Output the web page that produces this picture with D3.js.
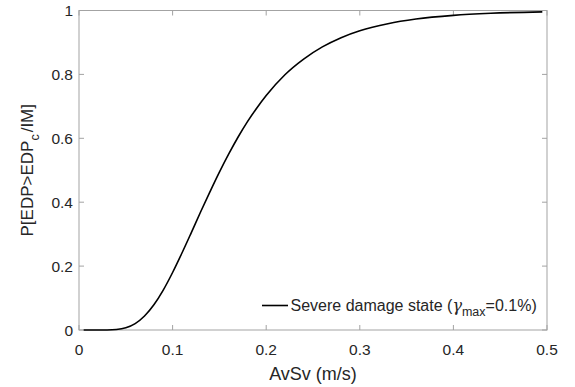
<!DOCTYPE html>
<html>
<head>
<meta charset="utf-8">
<script src="https://cdn.jsdelivr.net/npm/d3@7"></script>
<style>
  html, body { margin: 0; padding: 0; background: #fff; }
  svg { display: block; }
  text { font-family: "Liberation Sans", Arial, Helvetica, sans-serif; fill: #262626; }
</style>
</head>
<body>
<svg id="chart" width="575" height="387"></svg>
<script>
// Fragility curve: intensity measure (AvSv, m/s) and exceedance probability
const avsv = [0.005, 0.02, 0.03, 0.04, 0.05, 0.06, 0.07, 0.08, 0.09, 0.10,
              0.11, 0.12, 0.13, 0.14, 0.15, 0.16, 0.17, 0.18, 0.19, 0.20,
              0.22, 0.24, 0.26, 0.28, 0.30, 0.33, 0.36, 0.40, 0.44, 0.495];
const probability = [0.0000, 0.0000, 0.0002, 0.0016, 0.0070, 0.0201, 0.0438, 0.079, 0.125, 0.180,
                     0.241, 0.305, 0.370, 0.433, 0.494, 0.551, 0.604, 0.652, 0.695, 0.734,
                     0.799, 0.848, 0.886, 0.915, 0.9365, 0.9588, 0.9733, 0.9848, 0.9913, 0.9958];
const xTicks = [0, 0.1, 0.2, 0.3, 0.4, 0.5];
const yTicks = [0, 0.2, 0.4, 0.6, 0.8, 1];

const svg = d3.select("#chart");
const mLeft = 79, mRight = 547, mTop = 10.5, mBottom = 330;

const x = d3.scaleLinear().domain([0, 0.5]).range([mLeft, mRight]);
const y = d3.scaleLinear().domain([0, 1]).range([mBottom, mTop]);

const axisColor = "#a3a3a3";
const tickLen = 5;

// Box and inward ticks on all sides
const g = svg.append("g");
g.append("rect")
  .attr("x", mLeft).attr("y", mTop)
  .attr("width", mRight - mLeft).attr("height", mBottom - mTop)
  .attr("fill", "none").attr("stroke", axisColor).attr("stroke-width", 1);

xTicks.forEach(t => {
  g.append("line").attr("x1", x(t)).attr("x2", x(t)).attr("y1", mBottom).attr("y2", mBottom - tickLen)
    .attr("stroke", axisColor);
  g.append("line").attr("x1", x(t)).attr("x2", x(t)).attr("y1", mTop).attr("y2", mTop + tickLen)
    .attr("stroke", axisColor);
  g.append("text").attr("x", x(t)).attr("y", 355)
    .attr("text-anchor", "middle").attr("font-size", 15.5)
    .text(d3.format("~g")(t));
});
yTicks.forEach(t => {
  g.append("line").attr("x1", mLeft).attr("x2", mLeft + tickLen).attr("y1", y(t)).attr("y2", y(t))
    .attr("stroke", axisColor);
  g.append("line").attr("x1", mRight).attr("x2", mRight - tickLen).attr("y1", y(t)).attr("y2", y(t))
    .attr("stroke", axisColor);
  g.append("text").attr("x", 73).attr("y", y(t)).attr("dy", "0.36em")
    .attr("text-anchor", "end").attr("font-size", 15.5)
    .text(d3.format("~g")(t));
});

// Axis titles
svg.append("text").attr("x", (mLeft + mRight) / 2).attr("y", 380)
  .attr("text-anchor", "middle").attr("font-size", 18)
  .text("AvSv (m/s)");

const yl = svg.append("text")
  .attr("transform", `translate(33,${(mTop + mBottom) / 2}) rotate(-90)`)
  .attr("text-anchor", "middle").attr("font-size", 17);
yl.append("tspan").text("P[EDP>EDP");
yl.append("tspan").attr("font-size", 12.5).attr("dy", 6).text("c");
yl.append("tspan").attr("dy", -6).attr("dx", 2).text("/IM]");

// Fragility curve
const pts = avsv.map((v, i) => [v, probability[i]]);
svg.append("path")
  .datum(pts)
  .attr("fill", "none").attr("stroke", "#000").attr("stroke-width", 1.6)
  .attr("d", d3.line().x(d => x(d[0])).y(d => y(d[1])).curve(d3.curveMonotoneX));

// Legend
const ly = 305.5;
svg.append("line").attr("x1", 262).attr("x2", 288).attr("y1", ly).attr("y2", ly)
  .attr("stroke", "#000").attr("stroke-width", 1.6);
const lt = svg.append("text").attr("x", 290.5).attr("y", ly).attr("dy", "0.36em").attr("font-size", 16);
lt.append("tspan").text("Severe damage state (");
lt.append("tspan").attr("font-family", "DejaVu Serif").attr("font-style", "italic").text("γ");
lt.append("tspan").attr("font-size", 12.5).attr("dy", 5).text("max");
lt.append("tspan").attr("dy", -5).text("=0.1%)");
</script>
</body>
</html>
